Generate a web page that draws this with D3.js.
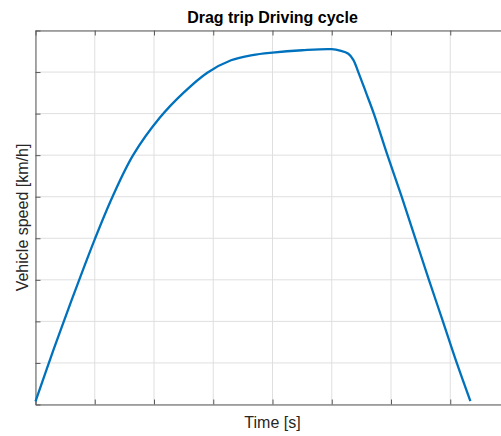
<!DOCTYPE html>
<html>
<head>
<meta charset="utf-8">
<script src="https://d3js.org/d3.v7.min.js"></script>
<style>
  body { margin: 0; background: #fff; }
  text { font-family: "Liberation Sans", Arial, Helvetica, sans-serif; fill: #262626; }
</style>
</head>
<body>
<svg class="chart" width="501" height="436"></svg>
<script>
// time [s] and vehicle speed [km/h]
var timeValues  = [0, 1.5, 3, 5, 6.5, 8.25, 10.5, 12.5, 14.5, 16.5, 18.3, 20, 22.5, 25,
                   25.7, 26.4, 26.82, 27.24, 27.9, 28.55, 29.7, 30.9, 32.05, 33.2, 34.38, 35.55, 36.7];
var speedValues = [1.5, 26, 49.5, 79.5, 100, 120.1, 138.1, 150.1, 159.7, 165.7, 168.2, 169.4, 170.5, 171,
                   170.3, 168.8, 165.9, 160, 150, 140, 120, 100, 80, 60, 40, 20, 1.6];
var xTicks = [0, 5, 10, 15, 20, 25, 30, 35, 40];
var yTicks = [0, 20, 40, 60, 80, 100, 120, 140, 160, 180];

var plot = { left: 35.5, right: 509.5, top: 30.5, bottom: 404.5 };

var svg = d3.select(".chart");

var x = d3.scaleLinear().domain([0, 40]).range([plot.left, plot.right]);
var y = d3.scaleLinear().domain([0, 180]).range([plot.bottom, plot.top]);

// grid
svg.append("g").selectAll("line")
    .data(xTicks)
  .enter().append("line")
    .attr("x1", function(d) { return x(d); })
    .attr("x2", function(d) { return x(d); })
    .attr("y1", plot.top)
    .attr("y2", plot.bottom)
    .attr("stroke", "#dfdfdf")
    .attr("stroke-width", 1);

svg.append("g").selectAll("line")
    .data(yTicks)
  .enter().append("line")
    .attr("x1", plot.left)
    .attr("x2", plot.right)
    .attr("y1", function(d) { return y(d); })
    .attr("y2", function(d) { return y(d); })
    .attr("stroke", "#dfdfdf")
    .attr("stroke-width", 1);

// axes, ticks inward, no labels
var axisStyle = function(g) {
    g.select(".domain").attr("stroke", "#5a5a5a");
    g.selectAll(".tick line").attr("stroke", "#5a5a5a");
    g.selectAll(".tick text").remove();
};

svg.append("g")
    .attr("transform", "translate(0," + plot.bottom + ")")
    .call(d3.axisBottom(x).tickValues(xTicks).tickSizeInner(-5).tickSizeOuter(0))
    .call(axisStyle);

svg.append("g")
    .attr("transform", "translate(0," + plot.top + ")")
    .call(d3.axisTop(x).tickValues(xTicks).tickSizeInner(-5).tickSizeOuter(0))
    .call(axisStyle);

svg.append("g")
    .attr("transform", "translate(" + plot.left + ",0)")
    .call(d3.axisLeft(y).tickValues(yTicks).tickSizeInner(-5).tickSizeOuter(0))
    .call(axisStyle);

// speed curve
var line = d3.line()
    .x(function(d, i) { return x(timeValues[i]); })
    .y(function(d) { return y(d); })
    .curve(d3.curveCatmullRom.alpha(0.5));

svg.append("path")
    .attr("d", line(speedValues))
    .attr("fill", "none")
    .attr("stroke", "#0072BD")
    .attr("stroke-width", 2.3)
    .attr("stroke-linejoin", "round");

// texts
svg.append("text")
    .attr("x", (plot.left + plot.right) / 2)
    .attr("y", 22.5)
    .attr("text-anchor", "middle")
    .attr("font-size", "16px")
    .attr("font-weight", "bold")
    .style("fill", "#000")
    .text("Drag trip Driving cycle");

svg.append("text")
    .attr("x", (plot.left + plot.right) / 2)
    .attr("y", 428)
    .attr("text-anchor", "middle")
    .attr("font-size", "16px")
    .text("Time [s]");

svg.append("text")
    .attr("transform", "translate(27.5," + (plot.top + plot.bottom) / 2 + ") rotate(-90)")
    .attr("text-anchor", "middle")
    .attr("font-size", "16px")
    .text("Vehicle speed [km/h]");
</script>
</body>
</html>
